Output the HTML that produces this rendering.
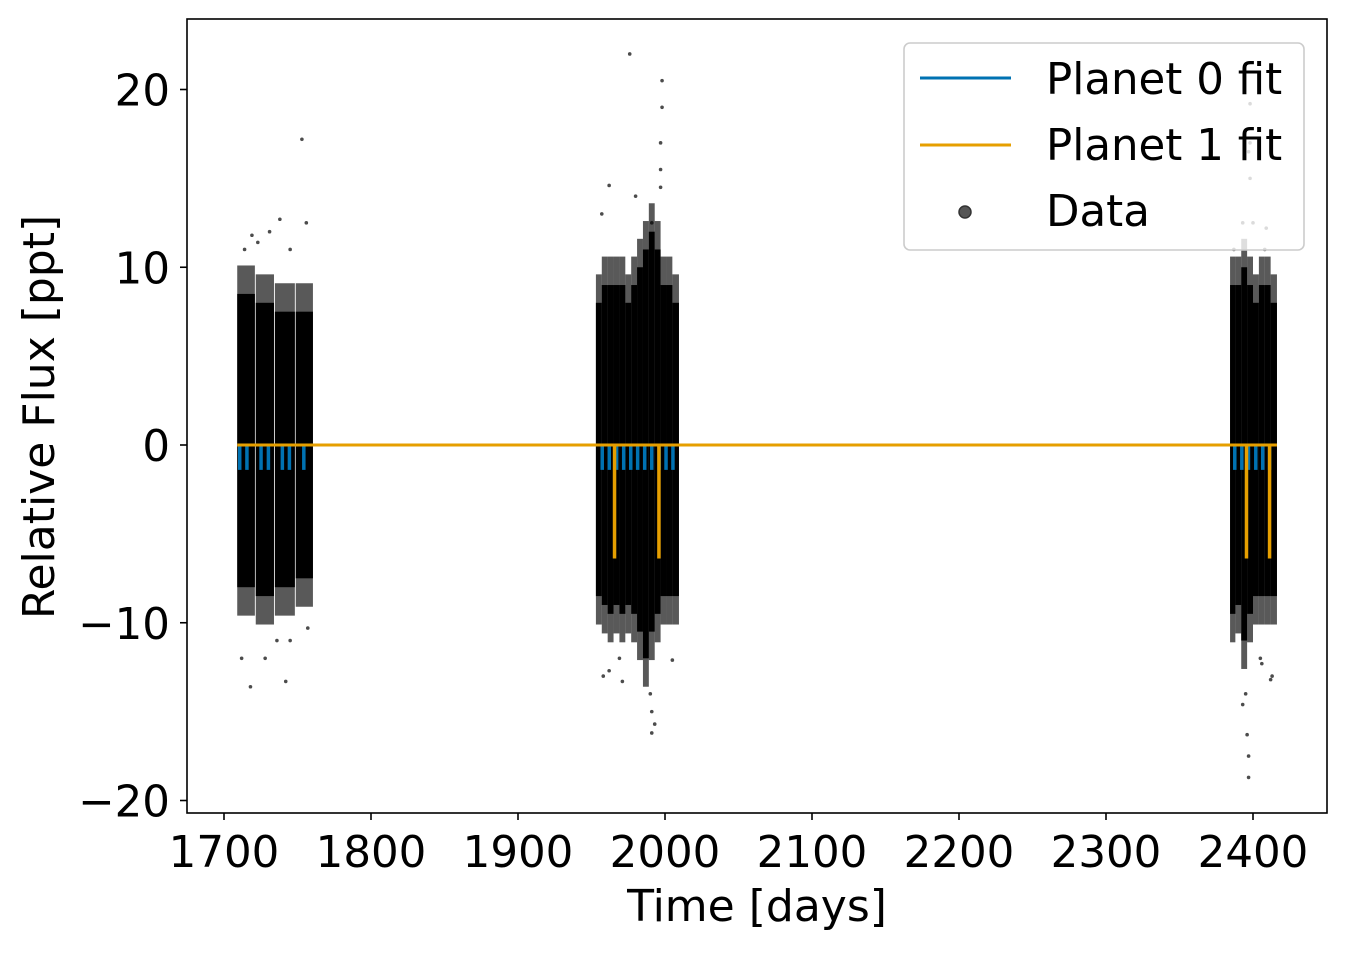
<!DOCTYPE html>
<html><head><meta charset="utf-8"><style>
body{margin:0;background:#fff}
svg text{font-family:"DejaVu Sans","Liberation Sans",sans-serif;fill:#000}
</style></head><body>
<svg id="chart" width="1346" height="950" viewBox="0 0 1346 950" xmlns="http://www.w3.org/2000/svg">
<g id="data"></g>
<g id="fits"></g>
<g id="axes"></g>
<rect x="187" y="19" width="1140" height="794" fill="none" stroke="#000" stroke-width="1.6"/>
<text x="757" y="921" font-size="44" text-anchor="middle">Time [days]</text>
<text transform="translate(54,417) rotate(-90)" font-size="44" text-anchor="middle">Relative Flux [ppt]</text>
<g>
<rect x="904" y="43" width="400" height="207" rx="6" fill="#fff" fill-opacity="0.8" stroke="#ccc" stroke-width="1.6"/>
<g><line x1="920" y1="78" x2="1011" y2="78" stroke="#0072b2" stroke-width="3"/><text x="1046" y="94" font-size="43.5">Planet 0 fit</text></g>
<g><line x1="920" y1="145" x2="1011" y2="145" stroke="#e69f00" stroke-width="3"/><text x="1046" y="160" font-size="43.5">Planet 1 fit</text></g>
<g><circle cx="965" cy="212" r="6" fill="#555" stroke="#333" stroke-width="1.5"/><text x="1046" y="226" font-size="43.5">Data</text></g>
</g>
</svg>
<script>
const xTicks=[1700,1800,1900,2000,2100,2200,2300,2400];
const yTicks=[-20,-10,0,10,20];
const yTickLabels=["\u221220","\u221210","0","10","20"];
const binStart=[1709,1721.6,1734.6,1748.8,1953,1957,1961,1965,1969,1973,1977,1981,1985,1989,1993,1997,2001,2005,2384.4,2388,2392,2396,2400,2404,2408,2412];
const binEnd=[1721,1734,1748.2,1760.5,1957,1961,1965,1969,1973,1977,1981,1985,1989,1993,1997,2001,2005,2009.5,2388,2392,2396,2400,2404,2408,2412,2416.3];
const binHi=[8.5,8,7.5,7.5,8,9,9,9,9,8,9,10,11,12,11,9,9,8,9,9,10,9,8,9,9,8];
const binLo=[-8,-8.5,-8,-7.5,-8.5,-9,-9.5,-9,-9.5,-9,-9.5,-10.5,-12,-10.5,-9.5,-8.5,-8.5,-8.5,-9.5,-9,-11,-9.5,-8.5,-8.5,-8.5,-8.5];
const outT=[1753,1976,1998,1998,1997,1997,1997,1962,1957,1980,1991,1962,1958,1971,1990,1991,1991,1993,2005,1969,1718,1712,1728,1742,1745,1736,1757,1738,1731,1745,1756,1723,1714,1719,2398,2398,2397,2398,2400,2409,2393,2396,2397,2397,2393,2395,2413,2412,2406,2405,2408,2387];
const outF=[17.2,22,20.5,19,17,15.5,14.5,14.6,13,14,12.5,-12.7,-13,-13.3,-14,-15,-16.2,-15.7,-12.1,-12,-13.6,-12,-12,-13.3,-11,-11,-10.3,12.7,12,11,12.5,11.4,11,11.8,19.2,17,16.5,15,12.5,12.2,12.5,-16.3,-17.5,-18.7,-14.6,-14,-13,-13.2,-12.3,-12,11,11];
const p0Transits=[1710.7,1715.6,1725.2,1730.2,1739.7,1744.5,1754.3,1957.3,1962.1,1967.1,1971.9,1976.7,1981.4,1986.2,1991.0,1996.0,2000.7,2005.4,2387.6,2392.4,2396.9,2401.9,2406.6,2411.3];
const p0Depth=[-1.4];
const p1Transits=[1965.5,1995.7,2395.4,2411.1];
const p1Depth=[-6.3];
const fitRange=[1709,2416.3];

const NS="http://www.w3.org/2000/svg";
const X=t=>224+(t-1700)*1.47;
const Y=f=>445-f*17.775;
function mk(tag,attrs,parent){const e=document.createElementNS(NS,tag);for(const k in attrs)e.setAttribute(k,attrs[k]);parent.appendChild(e);return e;}
const dataG=document.getElementById('data'),fitG=document.getElementById('fits'),axG=document.getElementById('axes');
binStart.forEach((s,i)=>{
  const h=mk('rect',{x:X(s),y:Y(binHi[i]+1.6),width:X(binEnd[i])-X(s),height:Y(binLo[i]-1.6)-Y(binHi[i]+1.6),fill:'#000','fill-opacity':0.65},dataG);
  
  
  const r=mk('rect',{x:X(s),y:Y(binHi[i]),width:X(binEnd[i])-X(s),height:Y(binLo[i])-Y(binHi[i]),fill:'#000'},dataG);
  
  
});
outT.forEach((t,i)=>{
  const c=mk('circle',{cx:X(t),cy:Y(outF[i]),r:1.8,fill:'#000','fill-opacity':0.7},dataG);
  
  
});
p0Transits.forEach(t=>{
  const l=mk('line',{x1:X(t),y1:Y(0),x2:X(t),y2:Y(p0Depth[0]),stroke:'#0072b2','stroke-width':3.5},fitG);
  
  
});
let d='M'+X(fitRange[0])+' '+Y(0);
p1Transits.forEach(t=>{d+=' L'+X(t)+' '+Y(0)+' L'+X(t)+' '+Y(p1Depth[0])+' L'+(X(t)+0.5)+' '+Y(p1Depth[0])+' L'+(X(t)+0.5)+' '+Y(0);});
d+=' L'+X(fitRange[1])+' '+Y(0);
const p1=mk('path',{d:d,fill:'none',stroke:'#e69f00','stroke-width':3},fitG);


xTicks.forEach(v=>{
  const l=mk('line',{x1:X(v),y1:813,x2:X(v),y2:820,stroke:'#000','stroke-width':1.6},axG);
  
  
  const t=mk('text',{x:X(v),y:867,'font-size':43.5,'text-anchor':'middle'},axG);
  t.textContent=v;
  
  
});
yTicks.forEach((v,i)=>{
  const l=mk('line',{x1:180,y1:Y(v),x2:187,y2:Y(v),stroke:'#000','stroke-width':1.6},axG);
  
  
  const t=mk('text',{x:170,y:Y(v)+16,'font-size':43.5,'text-anchor':'end'},axG);
  t.textContent=yTickLabels[i];
  
  
});
</script>
</body></html>
